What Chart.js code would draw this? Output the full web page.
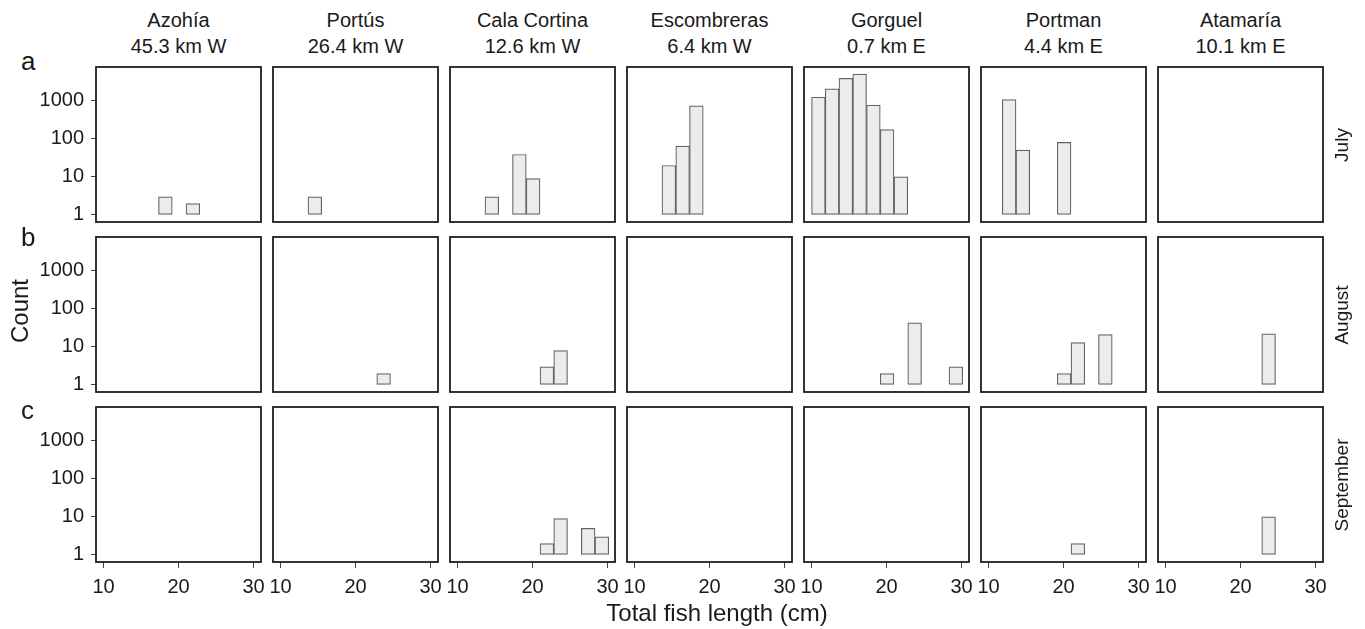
<!DOCTYPE html>
<html>
<head>
<meta charset="utf-8">
<script src="https://cdn.jsdelivr.net/npm/chart.js@4.4.1/dist/chart.umd.min.js"></script>
<style>
body { margin: 0; background: #fff; }
#wrap { position: relative; width: 1365px; height: 629px; overflow: hidden;
        font-family: 'Liberation Sans', Arial, Helvetica, sans-serif; color: #1a1a1a; }
#wrap canvas { position: absolute; }
.lab { position: absolute; white-space: nowrap; }
</style>
</head>
<body>
<div id="wrap"></div>
<script>
const sites = ['Azohía', 'Portús', 'Cala Cortina', 'Escombreras', 'Gorguel', 'Portman', 'Atamaría'];
const distances = ['45.3 km W', '26.4 km W', '12.6 km W', '6.4 km W', '0.7 km E', '4.4 km E', '10.1 km E'];
const months = ['July', 'August', 'September'];
const rowLetters = ['a', 'b', 'c'];

// length bins (cm), bin centres
const binCenters = [10.92, 12.75, 14.58, 16.42, 18.25, 20.08, 21.92, 23.75, 25.58, 27.42, 29.25];
const xTickValues = [10, 20, 30];
const yTickValues = [1, 10, 100, 1000];

const _ = null;
// counts per site, one entry per bin
const julyCounts = [
  [_, _, _, _, 3, _, 2, _, _, _, _],
  [_, _, 3, _, _, _, _, _, _, _, _],
  [_, _, 3, _, 39, 9, _, _, _, _, _],
  [_, _, 20, 65, 740, _, _, _, _, _, _],
  [1250, 2070, 3900, 5100, 770, 175, 10, _, _, _, _],
  [_, 1080, 51, _, _, 81, _, _, _, _, _],
  [_, _, _, _, _, _, _, _, _, _, _]
];
const augustCounts = [
  [_, _, _, _, _, _, _, _, _, _, _],
  [_, _, _, _, _, _, _, 2, _, _, _],
  [_, _, _, _, _, _, 3, 8, _, _, _],
  [_, _, _, _, _, _, _, _, _, _, _],
  [_, _, _, _, _, 2, _, 43, _, _, 3],
  [_, _, _, _, _, 2, 13, _, 21, _, _],
  [_, _, _, _, _, _, _, 22, _, _, _]
];
const septemberCounts = [
  [_, _, _, _, _, _, _, _, _, _, _],
  [_, _, _, _, _, _, _, _, _, _, _],
  [_, _, _, _, _, _, 2, 9, _, 5, 3],
  [_, _, _, _, _, _, _, _, _, _, _],
  [_, _, _, _, _, _, _, _, _, _, _],
  [_, _, _, _, _, _, 2, _, _, _, _],
  [_, _, _, _, _, _, _, 10, _, _, _]
];
const allCounts = [julyCounts, augustCounts, septemberCounts];

const wrap = document.getElementById('wrap');
const panelLeft = 96, pitchX = 177, panelW = 165;
const panelTop = 67, pitchY = 170, panelH = 155;
const axisW = 60, axisH = 40, padT = 2, padR = 14;

Chart.defaults.font.family = "'Liberation Sans', Arial, Helvetica, sans-serif";
Chart.defaults.font.size = 20;
Chart.defaults.color = '#1a1a1a';

const framePlugin = {
  id: 'frame',
  afterDatasetsDraw(chart) {
    const a = chart.chartArea, ctx = chart.ctx;
    ctx.save();
    ctx.strokeStyle = '#1e1e1e';
    ctx.lineWidth = 1.8;
    ctx.strokeRect(a.left, a.top, a.right - a.left, a.bottom - a.top);
    ctx.restore();
  }
};

function addLabel(html, css) {
  const d = document.createElement('div');
  d.className = 'lab';
  d.innerHTML = html;
  Object.assign(d.style, css);
  wrap.appendChild(d);
}

function makePanel(row, col, counts) {
  const canvas = document.createElement('canvas');
  const w = axisW + panelW + padR, h = padT + panelH + axisH;
  canvas.width = w;
  canvas.height = h;
  canvas.style.left = (panelLeft + col * pitchX - axisW) + 'px';
  canvas.style.top = (panelTop + row * pitchY - padT) + 'px';
  wrap.appendChild(canvas);
  const showY = col === 0, showX = row === 2;

  new Chart(canvas, {
    type: 'bar',
    data: {
      datasets: [{
        data: binCenters.map((x, i) => ({ x: x, y: counts[i] })),
        base: 1,
        backgroundColor: '#ececec',
        borderColor: '#636363',
        borderWidth: 1.2,
        borderSkipped: false,
        barPercentage: 1,
        categoryPercentage: 1
      }]
    },
    options: {
      responsive: false,
      animation: false,
      devicePixelRatio: 1,
      layout: { padding: { top: padT, right: padR, left: 0, bottom: 0 } },
      plugins: { legend: { display: false }, tooltip: { enabled: false } },
      scales: {
        x: {
          type: 'linear', min: 9, max: 31, offset: false,
          border: { display: false },
          grid: { offset: false, drawOnChartArea: false, drawTicks: showX, tickLength: 6, tickColor: '#444' },
          ticks: { display: showX, padding: 7, maxRotation: 0, autoSkip: false },
          afterBuildTicks: (s) => { s.ticks = xTickValues.map(v => ({ value: v })); },
          afterFit: (s) => { s.height = axisH; s.paddingLeft = 0; s.paddingRight = 0; }
        },
        y: {
          type: 'logarithmic', min: 0.653, max: 7800,
          border: { display: false },
          grid: { offset: false, drawOnChartArea: false, drawTicks: showY, tickLength: 5, tickColor: '#444' },
          ticks: { display: showY, padding: 7, callback: (v) => String(v) },
          afterBuildTicks: (s) => { s.ticks = yTickValues.map(v => ({ value: v })); },
          afterFit: (s) => { s.width = axisW; s.paddingTop = 0; s.paddingBottom = 0; }
        }
      }
    },
    plugins: [framePlugin]
  });
}

for (let r = 0; r < 3; r++) {
  for (let c = 0; c < sites.length; c++) {
    makePanel(r, c, allCounts[r][c]);
  }
}

// column titles
sites.forEach((s, c) => {
  const cx = panelLeft + c * pitchX + panelW / 2;
  addLabel(s + '<br>' + distances[c], {
    left: (cx - 100) + 'px', top: '7px', width: '200px', textAlign: 'center',
    fontSize: '20px', lineHeight: '26px'
  });
});

// month strips and row letters
const letterTops = [48, 224, 397];
months.forEach((m, r) => {
  const cy = panelTop + r * pitchY + panelH / 2;
  addLabel(m, {
    left: '1341px', top: cy + 'px', fontSize: '19px', lineHeight: '19px',
    transform: 'translate(-50%, -50%) rotate(-90deg)'
  });
  addLabel(rowLetters[r], { left: '21px', top: letterTops[r] + 'px', fontSize: '26px', lineHeight: '26px' });
});

addLabel('Count', {
  left: '20px', top: '311px', fontSize: '24px', lineHeight: '24px',
  transform: 'translate(-50%, -50%) rotate(-90deg)'
});
addLabel('Total fish length (cm)', {
  left: '717px', top: '601px', fontSize: '24px', lineHeight: '24px',
  transform: 'translateX(-50%)'
});
</script>
</body>
</html>
